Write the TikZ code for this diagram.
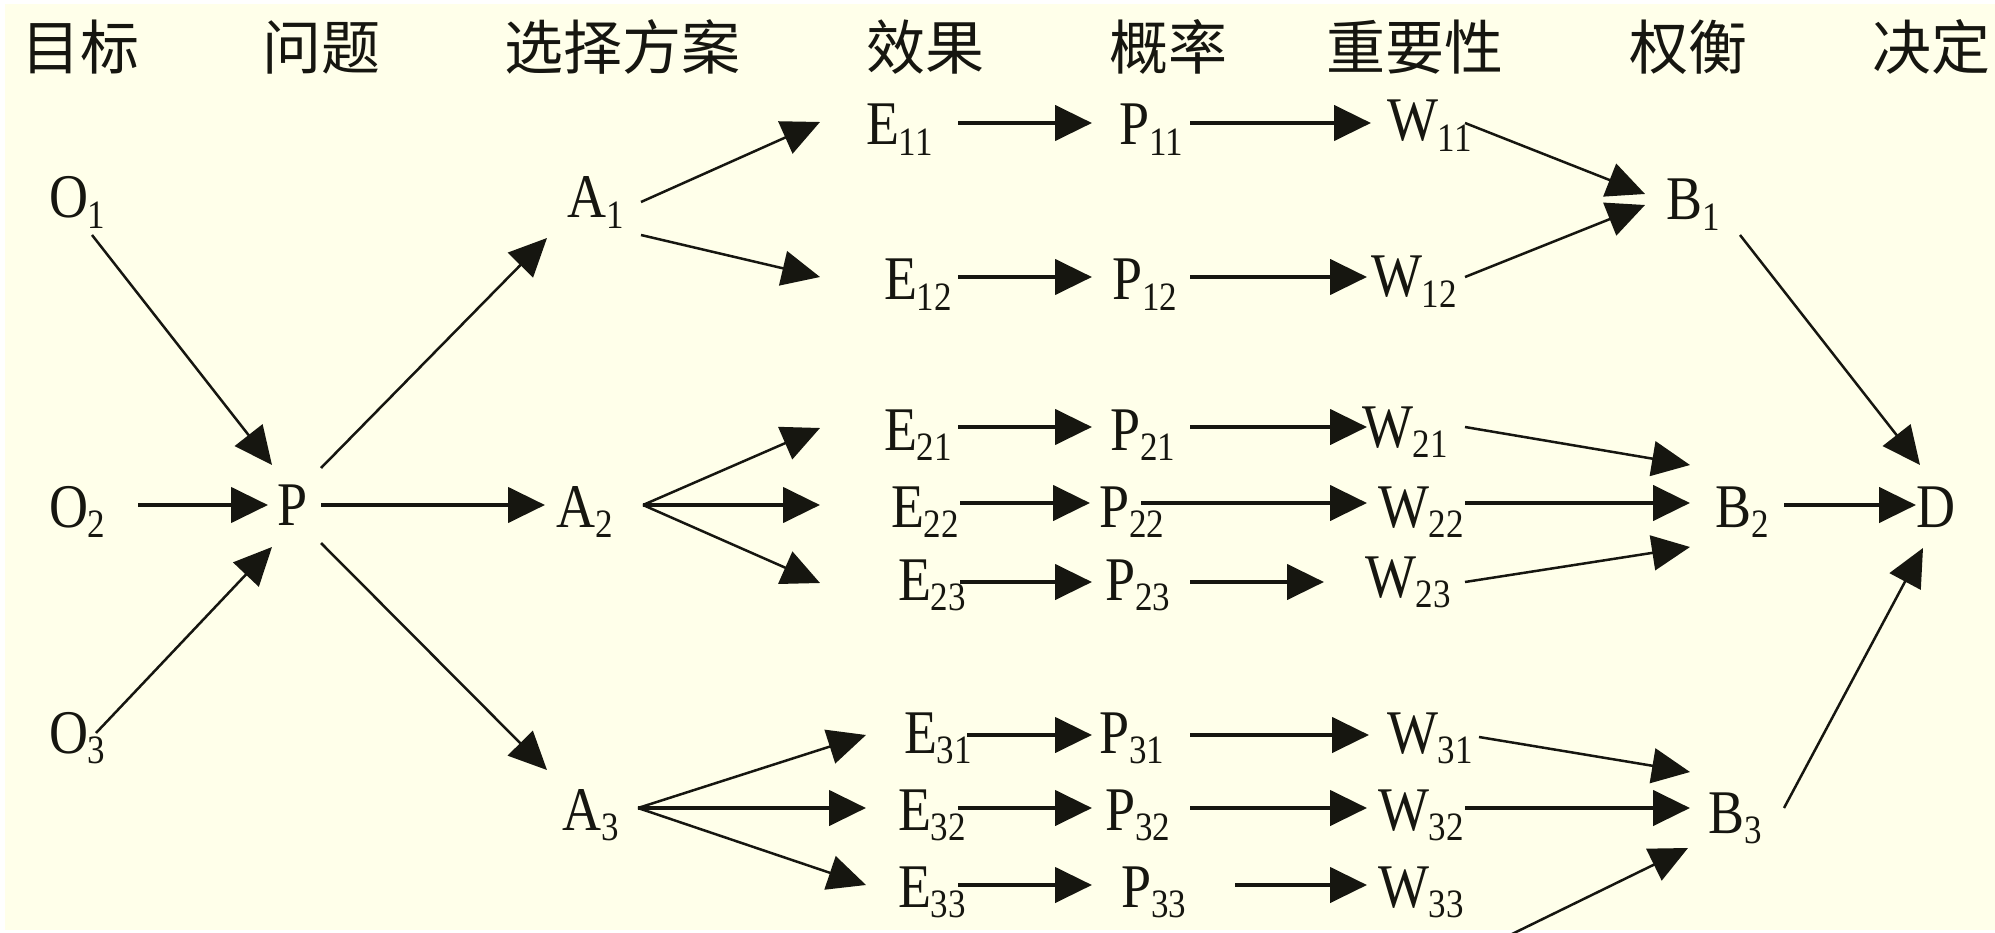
\documentclass[tikz,border=0pt]{standalone}
\usepackage{fontspec}
\setmainfont{Liberation Serif}
\newfontfamily\cjk{Noto Sans CJK SC}
\usetikzlibrary{arrows.meta}
\definecolor{bg}{RGB}{255,255,234}
\definecolor{ink}{RGB}{22,22,16}
\newcommand{\lbl}[2]{\scalebox{1}[1.15]{\fontsize{54}{54}\selectfont #1\raisebox{-9pt}{\fontsize{35}{35}\selectfont #2}}}
\begin{document}
\begin{tikzpicture}[x=1pt,y=-1pt,
  lab/.style={inner sep=0pt, outer sep=0pt, anchor=base west, text=ink},
  head/.style={inner sep=0pt, anchor=center, text=ink, font=\cjk\fontsize{59}{59}\selectfont},
  hl/.style={draw=ink, line width=4.5pt, -{Triangle[length=37pt,width=35pt]}},
  dl/.style={draw=ink, line width=2.5pt, -{Triangle[length=38pt,width=35pt]}},
]
\fill[white] (0,0) rectangle (1995,933);
\fill[bg] (5,4) rectangle (1995,930);
\useasboundingbox (0,0) rectangle (1995,933);

% headers
\node[head] (h1) at (80,47) {目标};
\node[head] (h2) at (321,47) {问题};
\node[head] (h3) at (622,47) {选择方案};
\node[head] (h4) at (925,47) {效果};
\node[head] (h5) at (1168,47) {概率};
\node[head] (h6) at (1415,47) {重要性};
\node[head] (h7) at (1688,47) {权衡};
\node[head] (h8) at (1931,47) {决定};

% labels
\node[lab] (O1) at (49,218) {\lbl{O}{1}};
\node[lab] (O2) at (49,527) {\lbl{O}{2}};
\node[lab] (O3) at (49,753) {\lbl{O}{3}};
\node[lab] (P) at (277,525) {\lbl{P}{}};
\node[lab] (A1) at (567,218) {\lbl{A}{1}};
\node[lab] (A2) at (556,527) {\lbl{A}{2}};
\node[lab] (A3) at (562,830) {\lbl{A}{3}};
\node[lab] (E11) at (866,145) {\lbl{E}{11}};
\node[lab] (E12) at (884,300) {\lbl{E}{12}};
\node[lab] (E21) at (884,450) {\lbl{E}{21}};
\node[lab] (E22) at (891,527) {\lbl{E}{22}};
\node[lab] (E23) at (898,600) {\lbl{E}{23}};
\node[lab] (E31) at (904,753) {\lbl{E}{31}};
\node[lab] (E32) at (898,830) {\lbl{E}{32}};
\node[lab] (E33) at (898,907) {\lbl{E}{33}};
\node[lab] (P11) at (1119,145) {\lbl{P}{11}};
\node[lab] (P12) at (1112,300) {\lbl{P}{12}};
\node[lab] (P21) at (1110,450) {\lbl{P}{21}};
\node[lab] (P22) at (1099,527) {\lbl{P}{22}};
\node[lab] (P23) at (1105,600) {\lbl{P}{23}};
\node[lab] (P31) at (1099,753) {\lbl{P}{31}};
\node[lab] (P32) at (1105,830) {\lbl{P}{32}};
\node[lab] (P33) at (1121,907) {\lbl{P}{33}};
\node[lab] (W11) at (1387,141) {\lbl{W}{11}};
\node[lab] (W12) at (1371,297) {\lbl{W}{12}};
\node[lab] (W21) at (1362,447) {\lbl{W}{21}};
\node[lab] (W22) at (1378,527) {\lbl{W}{22}};
\node[lab] (W23) at (1365,597) {\lbl{W}{23}};
\node[lab] (W31) at (1387,753) {\lbl{W}{31}};
\node[lab] (W32) at (1378,830) {\lbl{W}{32}};
\node[lab] (W33) at (1378,907) {\lbl{W}{33}};
\node[lab] (B1) at (1666,220) {\lbl{B}{1}};
\node[lab] (B2) at (1715,527) {\lbl{B}{2}};
\node[lab] (B3) at (1708,833) {\lbl{B}{3}};
\node[lab] (D) at (1916,527) {\lbl{D}{}};
\coordinate (bot) at (1510,935);

% connectors
\draw[dl] ([shift={(43,17)}]O1.base west) -- ([shift={(-5,-60)}]P.base west);
\draw[hl] ([shift={(89,-22)}]O2.base west) -- ([shift={(-9,-20)}]P.base west);
\draw[dl] ([shift={(47,-20)}]O3.base west) -- ([shift={(-5,22)}]P.base west);
\draw[dl] ([shift={(44,-57)}]P.base west) -- ([shift={(-20,20)}]A1.base west);
\draw[hl] ([shift={(44,-20)}]P.base west) -- ([shift={(-11,-22)}]A2.base west);
\draw[dl] ([shift={(44,18)}]P.base west) -- ([shift={(-15,-60)}]A3.base west);

\draw[dl] ([shift={(74,-16)}]A1.base west) -- ([shift={(-46,-23)}]E11.base west);
\draw[dl] ([shift={(74,17)}]A1.base west) -- ([shift={(-64,-23)}]E12.base west);
\draw[dl] ([shift={(87,-22)}]A2.base west) -- ([shift={(-64,-22)}]E21.base west);
\draw[hl] ([shift={(87,-22)}]A2.base west) -- ([shift={(-71,-22)}]E22.base west);
\draw[dl] ([shift={(87,-22)}]A2.base west) -- ([shift={(-78,-17)}]E23.base west);
\draw[dl] ([shift={(76,-22)}]A3.base west) -- ([shift={(-38,-18)}]E31.base west);
\draw[hl] ([shift={(76,-22)}]A3.base west) -- ([shift={(-32,-22)}]E32.base west);
\draw[dl] ([shift={(76,-22)}]A3.base west) -- ([shift={(-32,-22)}]E33.base west);

\draw[hl] ([shift={(92,-22)}]E11.base west) -- ([shift={(-27,-22)}]P11.base west);
\draw[hl] ([shift={(74,-23)}]E12.base west) -- ([shift={(-20,-23)}]P12.base west);
\draw[hl] ([shift={(74,-23)}]E21.base west) -- ([shift={(-18,-23)}]P21.base west);
\draw[hl] ([shift={(69,-24)}]E22.base west) -- ([shift={(-9,-24)}]P22.base west);
\draw[hl] ([shift={(62,-18)}]E23.base west) -- ([shift={(-13,-18)}]P23.base west);
\draw[hl] ([shift={(63,-18)}]E31.base west) -- ([shift={(-7,-18)}]P31.base west);
\draw[hl] ([shift={(60,-22)}]E32.base west) -- ([shift={(-13,-22)}]P32.base west);
\draw[hl] ([shift={(60,-22)}]E33.base west) -- ([shift={(-29,-22)}]P33.base west);

\draw[hl] ([shift={(71,-22)}]P11.base west) -- ([shift={(-16,-18)}]W11.base west);
\draw[hl] ([shift={(78,-23)}]P12.base west) -- ([shift={(-4,-20)}]W12.base west);
\draw[hl] ([shift={(80,-23)}]P21.base west) -- ([shift={(5,-20)}]W21.base west);
\draw[hl] ([shift={(42,-24)}]P22.base west) -- ([shift={(-11,-24)}]W22.base west);
\draw[hl] ([shift={(85,-18)}]P23.base west) -- ([shift={(-41,-15)}]W23.base west);
\draw[hl] ([shift={(91,-18)}]P31.base west) -- ([shift={(-18,-18)}]W31.base west);
\draw[hl] ([shift={(85,-22)}]P32.base west) -- ([shift={(-11,-22)}]W32.base west);
\draw[hl] ([shift={(114,-22)}]P33.base west) -- ([shift={(-11,-22)}]W33.base west);

\draw[dl] ([shift={(78,-18)}]W11.base west) -- ([shift={(-21,-26)}]B1.base west);
\draw[dl] ([shift={(94,-20)}]W12.base west) -- ([shift={(-21,-15)}]B1.base west);
\draw[dl] ([shift={(103,-20)}]W21.base west) -- ([shift={(-25,-62)}]B2.base west);
\draw[hl] ([shift={(87,-24)}]W22.base west) -- ([shift={(-25,-24)}]B2.base west);
\draw[dl] ([shift={(100,-15)}]W23.base west) -- ([shift={(-25,20)}]B2.base west);
\draw[dl] ([shift={(92,-16)}]W31.base west) -- ([shift={(-18,-61)}]B3.base west);
\draw[hl] ([shift={(87,-22)}]W32.base west) -- ([shift={(-18,-25)}]B3.base west);
\draw[dl] (bot) -- ([shift={(-20,15)}]B3.base west);

\draw[dl] ([shift={(74,15)}]B1.base west) -- ([shift={(4,-62)}]D.base west);
\draw[hl] ([shift={(69,-22)}]B2.base west) -- ([shift={(0,-22)}]D.base west);
\draw[dl] ([shift={(76,-25)}]B3.base west) -- ([shift={(7,21)}]D.base west);
\end{tikzpicture}
\end{document}
